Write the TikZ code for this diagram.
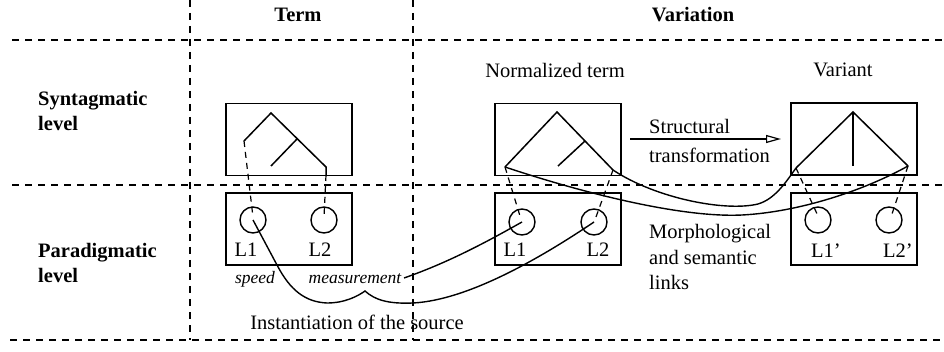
\documentclass[tikz,border=0pt]{standalone}
\usepackage{fontspec}
\setmainfont{Liberation Serif}
\usetikzlibrary{arrows.meta}

\begin{document}
\begin{tikzpicture}[x=1pt,y=-1pt,
  gridline/.style={line width=1.3pt,dash pattern=on 7pt off 6pt},
  frame/.style={draw,line width=1.6pt,minimum width=126pt,minimum height=72pt,inner sep=0pt},
  lexeme/.style={draw,circle,line width=1.4pt,minimum size=26pt,inner sep=0pt},
  branch/.style={line width=1.5pt},
  leafline/.style={line width=1.2pt,dash pattern=on 6pt off 5pt},
  link/.style={line width=1.4pt},
  txt/.style={font=\fontsize{20.5}{25.5}\selectfont,inner sep=0pt},
  head/.style={font=\fontsize{20.5}{25.5}\selectfont\bfseries,inner sep=0pt},
  word/.style={font=\fontsize{17.5}{20}\selectfont\itshape,inner sep=0pt}]
\useasboundingbox (0,0) rectangle (944,352);

% table grid
\draw[gridline] (12,40) -- (944,40);
\draw[gridline] (12,185) -- (944,185);
\draw[gridline] (10,340) -- (944,340);
\draw[gridline] (190,0) -- (190,340);
\draw[gridline] (413,0) -- (413,340);

% headers and row labels
\node[head] (hterm) at (298,15) {Term};
\node[head] (hvar) at (693,15) {Variation};
\node[txt] (hnorm) at (555,70) {Normalized term};
\node[txt] (hvariant) at (843,70) {Variant};
\node[head,align=left,anchor=west] (rsyn) at (38,111) {Syntagmatic\\level};
\node[head,align=left,anchor=west] (rpar) at (38,263) {Paradigmatic\\level};

% frames
\node[frame] (tTop) at (289,139.5) {};
\node[frame] (tBot) at (289,229) {};
\node[frame] (nTop) at (558,139.5) {};
\node[frame] (nBot) at (558,229) {};
\node[frame] (vTop) at (854,139) {};
\node[frame] (vBot) at (854,229) {};

% lexical items
\node[lexeme] (tc1) at (253,220) {};
\node[lexeme] (tc2) at (324,220) {};
\node[lexeme] (nc1) at (522,222) {};
\node[lexeme] (nc2) at (594,222) {};
\node[lexeme] (vc1) at (818,220) {};
\node[lexeme] (vc2) at (889,220) {};
\node[txt] (tl1) at (246,250) {L1};
\node[txt] (tl2) at (320,250) {L2};
\node[txt] (nl1) at (515,250) {L1};
\node[txt] (nl2) at (598,250) {L2};
\node[txt] (vl1) at (826,251) {L1'};
\node[txt] (vl2) at (898,251) {L2'};

% trees
\coordinate (tA) at (271,113);
\coordinate (tL) at (244,141);
\coordinate (tR) at (326,167);
\coordinate (tRb) at (326,175);
\draw[branch] (tL) -- (tA) -- (tR) -- (tRb);
\draw[branch] (297,139) -- (271,166);

\coordinate (nA) at (557,112);
\coordinate (nL) at (505,167);
\coordinate (nR) at (613,170);
\draw[branch] (nL) -- (nA) -- (nR);
\draw[branch] (585,141) -- (558,166);

\coordinate (vA) at (853,112);
\coordinate (vL) at (796,168);
\coordinate (vR) at (908,166);
\draw[branch] (vL) -- (vA) -- (vR);
\draw[branch] (vA) -- (853,166);

% leaves to lexical items
\draw[leafline] (tL) -- (253,217);
\draw[leafline] (tRb) -- (324,217);
\draw[leafline] (nL) -- (520,216);
\draw[leafline] (nR) -- (596,217);
\draw[leafline] (vL) -- (818,216);
\draw[leafline] (vR) -- (891,217);

% structural transformation
\coordinate (sa) at (630,139);
\coordinate (sb) at (781,139);
\draw[line width=1.2pt,-{Triangle[open,length=15pt,width=8pt]}] (sa) -- (sb);
\node[txt,anchor=west] (st1) at (649,126) {Structural};
\node[txt,anchor=west] (st2) at (649,155) {transformation};

% morphological and semantic links
\draw[link] (nR) .. controls (655,198) and (725,212) .. (758,204)
  .. controls (775,199) and (786,182) .. (vL);
\draw[link] (nL) .. controls (580,192) and (680,218) .. (742,215)
  .. controls (800,212) and (865,190) .. (vR);
\node[txt,align=left,anchor=west] (morph) at (649,257) {Morphological\\and semantic\\links};

% instantiation of the source
\node[word] (speed) at (255,279) {speed};
\node[word] (meas) at (355,279) {measurement};
\draw[link] (tc1.center) -- (277,265) .. controls (290,290) and (305,302) .. (327,303)
  .. controls (345,303) and (358,296) .. (365,291)
  .. controls (375,300) and (388,304) .. (413,303)
  .. controls (470,300) and (545,255) .. (nc2.center);
\draw[link] (404,278) .. controls (450,262) and (490,240) .. (nc1.center);
\node[txt] (inst) at (357,322) {Instantiation of the source};
\end{tikzpicture}
\end{document}
